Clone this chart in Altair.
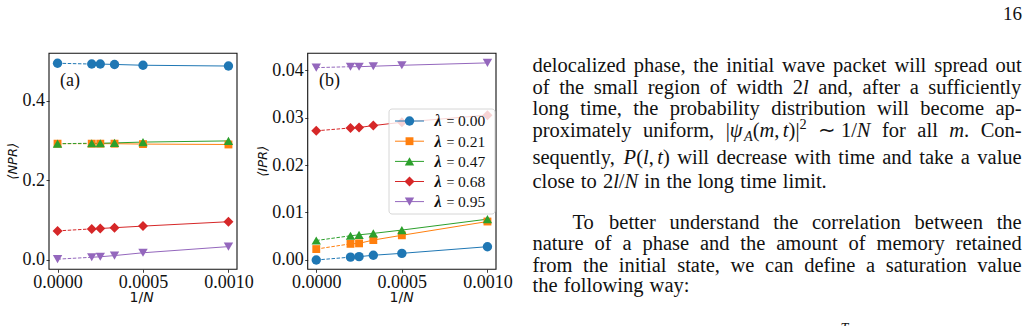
import re

import altair as alt
import pandas as pd

# ---------------------------------------------------------------- data
# 1/N values; the first point is the N -> infinity extrapolation
inv_n = [0.0, 0.0002, 0.00025, 1 / 3000, 0.0005, 0.001]

lam_labels = ["0.00", "0.21", "0.47", "0.68", "0.95"]
lam_colors = ["#1f77b4", "#ff7f0e", "#2ca02c", "#d62728", "#9467bd"]
lam_shapes = ["circle", "square", "triangle-up", "diamond", "triangle-down"]
lam_sizes = [88, 62, 88, 100, 88]

# panel (a): normalized participation ratio
npr_000 = [0.494, 0.492, 0.492, 0.491, 0.489, 0.487]
npr_021 = [0.292, 0.292, 0.292, 0.292, 0.291, 0.290]
npr_047 = [0.292, 0.293, 0.293, 0.294, 0.296, 0.299]
npr_068 = [0.073, 0.078, 0.079, 0.081, 0.085, 0.096]
npr_095 = [0.002, 0.0067, 0.008, 0.011, 0.018, 0.0335]

# panel (b): inverse participation ratio
ipr_000 = [0.0000, 0.0006, 0.0007, 0.0010, 0.0014, 0.0028]
ipr_021 = [0.0023, 0.0034, 0.0035, 0.0042, 0.0052, 0.0081]
ipr_047 = [0.0041, 0.0051, 0.0053, 0.0056, 0.0063, 0.0086]
ipr_068 = [0.0272, 0.0278, 0.0279, 0.0283, 0.0290, 0.0305]
ipr_095 = [0.0405, 0.0407, 0.0407, 0.0408, 0.0410, 0.0415]

x_ticks = [0.0, 0.0005, 0.001]
npr_ticks = [0.0, 0.2, 0.4]
ipr_ticks = [0.0, 0.01, 0.02, 0.03, 0.04]

# running text beside the figure
para_lines = [
    "delocalized phase, the initial wave packet will spread out",
    "of the small region of width 2<i>l</i> and, after a sufficiently",
    "long time, the probability distribution will become ap-",
    "proximately uniform, |<i>ψ</i><sub>A</sub>(<i>m</i>,\u2009<i>t</i>)|<sup>2</sup> ∼ 1/<i>N</i> for all <i>m</i>. Con-",
    "sequently, <i>P</i>(<i>l</i>,\u2009<i>t</i>) will decrease with time and take a value",
    "close to 2<i>l</i>/<i>N</i> in the long time limit.",
    "To better understand the correlation between the",
    "nature of a phase and the amount of memory retained",
    "from the initial state, we can define a saturation value",
    "the following way:",
]
para_baselines = [72, 93.5, 115, 136.5, 164, 187.5, 228.5, 250, 271.5, 292]
para_indent = [0, 0, 0, 0, 0, 0, 40, 0, 0, 0]
para_justify = [True, True, True, True, True, False, True, True, True, False]

SERIF = "Liberation Serif"
SANS = "DejaVu Sans"
INK = "#111111"
W, H = 1028, 326

color_scale = alt.Scale(domain=lam_labels, range=lam_colors)
shape_scale = alt.Scale(domain=lam_labels, range=lam_shapes)


def series_table(columns):
    rows = []
    for lab, vals, sz in zip(lam_labels, columns, lam_sizes):
        for i, (x, v) in enumerate(zip(inv_n, vals)):
            rows.append(dict(lam=lab, x=x, y=v, i=i, sz=sz))
    return pd.DataFrame(rows)


def panel(columns, ydom, xpx, ypx, yticks, yfmt, tag, tag_x, ytitle, ytitle_x, xtitle_x):
    xdom = [-0.00005, 0.00105]
    xs = alt.Scale(domain=xdom, range=xpx, nice=False, zero=False)
    ys = alt.Scale(domain=ydom, range=ypx, nice=False, zero=False)
    axis_style = dict(
        grid=False, domain=False, ticks=True, tickSize=3, tickWidth=0.8,
        tickColor=INK, labelFont=SERIF, labelFontSize=18, labelColor=INK,
        labelPadding=1.5, title=None, labelOverlap=False, labelFlush=False,
    )
    xaxis = alt.Axis(orient="bottom", offset=ypx[0] - H, values=x_ticks,
                     format=".4f", **axis_style)
    yaxis = alt.Axis(orient="left", offset=-xpx[0], values=yticks,
                     format=yfmt, **axis_style)
    X = alt.X("x:Q", scale=xs, axis=xaxis)
    Y = alt.Y("y:Q", scale=ys, axis=yaxis)
    color = alt.Color("lam:N", scale=color_scale, legend=None)
    shape = alt.Shape("lam:N", scale=shape_scale, legend=None)

    data = series_table(columns)
    frame_df = pd.DataFrame({"x": [xdom[0]], "x2": [xdom[1]],
                             "y": [ydom[0]], "y2": [ydom[1]]})
    frame = alt.Chart(frame_df).mark_rect(
        fill="transparent", stroke=INK, strokeWidth=1.1
    ).encode(x=X, x2="x2:Q", y=Y, y2="y2:Q")

    extrap = alt.Chart(data[data.i <= 1]).mark_line(
        strokeWidth=1, strokeDash=[3.5, 1.6]
    ).encode(x=X, y=Y, color=color)
    solid = alt.Chart(data[data.i >= 1]).mark_line(strokeWidth=1).encode(
        x=X, y=Y, color=color)
    pts = alt.Chart(data).mark_point(filled=True, opacity=1).encode(
        x=X, y=Y, color=color, shape=shape,
        size=alt.Size("sz:Q", scale=None))

    label = alt.Chart(pd.DataFrame({"t": [tag]})).mark_text(
        font=SERIF, fontSize=18, align="center", baseline="alphabetic", color=INK
    ).encode(x=alt.value(tag_x), y=alt.value(86), text="t:N")

    ylab = alt.Chart(pd.DataFrame({"t": [ytitle]})).mark_text(
        font=SANS, fontSize=13, fontStyle="italic", angle=270,
        align="center", baseline="middle", color=INK
    ).encode(x=alt.value(ytitle_x), y=alt.value((ypx[0] + ypx[1]) / 2), text="t:N")

    xlab_rm = alt.Chart(pd.DataFrame({"t": ["1/"]})).mark_text(
        font=SANS, fontSize=14, align="left", baseline="alphabetic", color=INK
    ).encode(x=alt.value(xtitle_x - 12.1), y=alt.value(302), text="t:N")
    xlab_it = alt.Chart(pd.DataFrame({"t": ["N"]})).mark_text(
        font=SANS, fontSize=14, fontStyle="italic", align="left",
        baseline="alphabetic", color=INK
    ).encode(x=alt.value(xtitle_x + 1.5), y=alt.value(302), text="t:N")

    return alt.layer(frame, extrap, solid, pts, label, ylab, xlab_rm, xlab_it)


panel_a = panel([npr_000, npr_021, npr_047, npr_068, npr_095],
                ydom=[-0.0235, 0.519], xpx=[49, 237], ypx=[269.3, 53.3],
                yticks=npr_ticks, yfmt=".1f", tag="(a)", tag_x=70,
                ytitle="⟨NPR⟩", ytitle_x=13, xtitle_x=141.7)
panel_b = panel([ipr_000, ipr_021, ipr_047, ipr_068, ipr_095],
                ydom=[-0.00196, 0.04352], xpx=[307.7, 496], ypx=[269.3, 53.3],
                yticks=ipr_ticks, yfmt=".2f", tag="(b)", tag_x=329.5,
                ytitle="⟨IPR⟩", ytitle_x=263, xtitle_x=401.7)

# ---------------------------------------------------------------- legend
leg_rows = [121, 141.2, 161.4, 181.5, 201.6]
leg_df = pd.DataFrame({
    "lam": lam_labels, "py": leg_rows, "sz": lam_sizes,
    "x0": [395] * 5, "x1": [424] * 5, "xm": [409.5] * 5,
    "ty": [r + 5.4 for r in leg_rows],
})
box = alt.Chart(pd.DataFrame({"a": [0]})).mark_rect(
    fill="white", fillOpacity=0.8, stroke="#cccccc", strokeWidth=0.8,
    cornerRadius=3
).encode(x=alt.value(389), x2=alt.value(495), y=alt.value(109), y2=alt.value(214))
leg_color = alt.Color("lam:N", scale=color_scale, legend=None)
leg_lines = alt.Chart(leg_df).mark_rule(strokeWidth=1).encode(
    x=alt.X("x0:Q", scale=None, axis=None), x2="x1:Q",
    y=alt.Y("py:Q", scale=None, axis=None), color=leg_color)
leg_pts = alt.Chart(leg_df).mark_point(filled=True, opacity=1).encode(
    x=alt.X("xm:Q", scale=None, axis=None),
    y=alt.Y("py:Q", scale=None, axis=None),
    color=leg_color, shape=alt.Shape("lam:N", scale=shape_scale, legend=None),
    size=alt.Size("sz:Q", scale=None))
leg_sym = alt.Chart(leg_df).mark_text(
    text="λ", font=SERIF, fontSize=16, fontStyle="italic", fontWeight="bold",
    align="left", baseline="alphabetic", color=INK
).encode(x=alt.value(434.5), y=alt.Y("ty:Q", scale=None, axis=None))
leg_eq = alt.Chart(leg_df).mark_text(
    text="=", font=SERIF, fontSize=14, align="left", baseline="alphabetic", color=INK
).encode(x=alt.value(446.5), y=alt.Y("ty:Q", scale=None, axis=None))
leg_val = alt.Chart(leg_df).mark_text(
    font=SERIF, fontSize=15.5, align="left", baseline="alphabetic", color=INK
).encode(x=alt.value(458), y=alt.Y("ty:Q", scale=None, axis=None), text="lam:N")

# ---------------------------------------------------------------- paragraph
PARA_LEFT, PARA_RIGHT, PARA_SIZE = 532.5, 1021.7, 20.5
RM = {" ": 250, ",": 250, ".": 250, "-": 333, ":": 278, "(": 333, ")": 333,
      "|": 200, "/": 278, "∼": 550, "\u2009": 167,
      "a": 444, "b": 500, "c": 444, "d": 500, "e": 444, "f": 333, "g": 500,
      "h": 500, "i": 278, "j": 278, "k": 500, "l": 278, "m": 778, "n": 500,
      "o": 500, "p": 500, "q": 500, "r": 333, "s": 389, "t": 278, "u": 500,
      "v": 500, "w": 722, "x": 500, "y": 500, "z": 444,
      "T": 611, "C": 667, "P": 556, "N": 722}
IT = {"l": 278, "m": 722, "t": 278, "N": 667, "P": 611, "A": 611, "ψ": 690}
TAG = re.compile(r"<(i|sub|sup)>(.*?)</\1>")


def split_segments(word):
    out, pos = [], 0
    for m in TAG.finditer(word):
        if m.start() > pos:
            out.append(("rm", word[pos:m.start()]))
        out.append((m.group(1), m.group(2)))
        pos = m.end()
    if pos < len(word):
        out.append(("rm", word[pos:]))
    return out


def seg_width(style, s):
    table = IT if style in ("i", "sub") else RM
    k = 0.7 if style in ("sub", "sup") else 1.0
    return sum(table.get(c, RM.get(c, 500)) for c in s) / 1000 * PARA_SIZE * k


rows = []
for line, base, indent, just in zip(para_lines, para_baselines, para_indent, para_justify):
    words = [split_segments(w) for w in line.split(" ")]
    widths = [sum(seg_width(st, s) for st, s in w) for w in words]
    x0 = PARA_LEFT + indent
    if just and len(words) > 1:
        gap = (PARA_RIGHT - x0 - sum(widths)) / (len(words) - 1)
    else:
        gap = 0.3 * PARA_SIZE
    x = x0
    for w, ww in zip(words, widths):
        cx = x
        for st, s in w:
            dy = 4.5 if st == "sub" else (-7.5 if st == "sup" else 0)
            rows.append(dict(px=cx, py=base + dy, t=s, st=st))
            cx += seg_width(st, s)
        x += ww + gap
para_df = pd.DataFrame(rows)


def para_layer(style, size, italic):
    opts = dict(font=SERIF, fontSize=size, align="left", baseline="alphabetic", color=INK)
    if italic:
        opts["fontStyle"] = "italic"
    return alt.Chart(para_df[para_df.st == style]).mark_text(**opts).encode(
        x=alt.X("px:Q", scale=None, axis=None),
        y=alt.Y("py:Q", scale=None, axis=None),
        text="t:N")


para_layers = [
    para_layer("rm", PARA_SIZE, False),
    para_layer("i", PARA_SIZE, True),
    para_layer("sub", PARA_SIZE * 0.7, True),
    para_layer("sup", PARA_SIZE * 0.7, False),
]

page_no = alt.Chart(pd.DataFrame({"t": ["16"]})).mark_text(
    font=SERIF, fontSize=19, align="right", baseline="alphabetic", color=INK
).encode(x=alt.value(1022), y=alt.value(20), text="t:N")
eq_limit = alt.Chart(pd.DataFrame({"t": ["T"]})).mark_text(
    font=SERIF, fontSize=14, fontStyle="italic", align="center",
    baseline="alphabetic", color=INK
).encode(x=alt.value(844.5), y=alt.value(333), text="t:N")

chart = alt.layer(
    panel_a, panel_b, box, leg_lines, leg_pts, leg_sym, leg_eq, leg_val,
    *para_layers, page_no, eq_limit,
).resolve_scale(
    x="independent", y="independent"
).properties(
    width=W, height=H, padding=0,
    autosize=alt.AutoSizeParams(type="none"),
    background="white",
).configure_view(strokeWidth=0)

chart.save("out.html", embed_options={"renderer": "svg", "actions": False})
